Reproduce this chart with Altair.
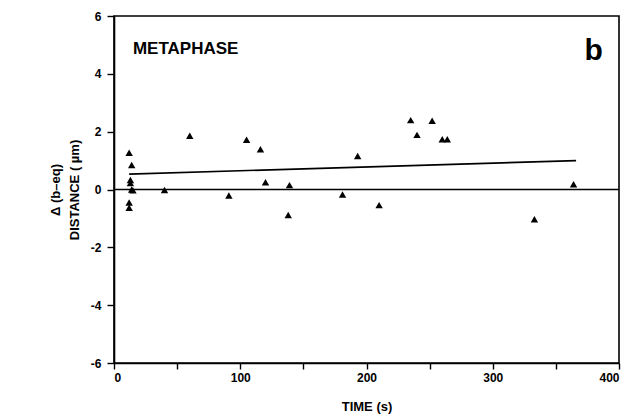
import altair as alt
import pandas as pd

# Data
time_s = [12, 14, 13, 13, 14, 15, 12, 12, 40, 60, 91, 105, 116, 120, 138, 139,
          181, 193, 210, 235, 240, 252, 260, 264, 333, 364]
delta_um = [1.27, 0.85, 0.33, 0.22, 0.0, -0.03, -0.45, -0.63, -0.02, 1.86, -0.21,
            1.72, 1.39, 0.25, -0.88, 0.15, -0.17, 1.16, -0.54, 2.4, 1.89, 2.38,
            1.74, 1.74, -1.03, 0.18]

fit_x = [12, 366]
fit_y = [0.53, 1.0]

x_ticks = [0, 50, 100, 150, 200, 250, 300, 350, 400]
y_ticks = [-6, -5, -4, -3, -2, -1, 0, 1, 2, 3, 4, 5, 6]

pts = pd.DataFrame({"t": time_s, "d": delta_um})
fit = pd.DataFrame({"t": fit_x, "d": fit_y})
labels = pd.DataFrame({"t": [15, 380], "d": [4.86, 4.8], "txt": ["METAPHASE", "b"]})

FONT = "Liberation Sans"

xscale = alt.Scale(domain=[0, 400], nice=False, zero=False)
yscale = alt.Scale(domain=[-6, 6], nice=False, zero=False)

xaxis = alt.Axis(
    values=x_ticks,
    labelExpr="datum.value % 100 == 0 ? datum.label : ''",
    title="TIME (s)",
    grid=False,
    tickSize=6,
    labelPadding=3,
    titlePadding=17,
)
yaxis = alt.Axis(
    values=y_ticks,
    labelExpr="datum.value % 2 == 0 ? replace(datum.label, '\u2212', '-') : ''",
    title=["Δ (b–eq)", "DISTANCE ( µm)"],
    grid=False,
    tickSize=7,
    labelPadding=6,
    titlePadding=9,
    titleLineHeight=19,
)

base_x = alt.X("t:Q", scale=xscale, axis=xaxis)
base_y = alt.Y("d:Q", scale=yscale, axis=yaxis)

points = alt.Chart(pts).mark_point(
    shape="triangle-up", filled=True, color="black", size=55, opacity=1
).encode(x=base_x, y=base_y)

line = alt.Chart(fit).mark_line(color="black", strokeWidth=1.6).encode(x="t:Q", y="d:Q")

zero = alt.Chart(pd.DataFrame({"z": [0]})).mark_rule(color="black", strokeWidth=1.6).encode(
    y=alt.Y("z:Q", scale=yscale)
)

meta = alt.Chart(labels.iloc[[0]]).mark_text(
    align="left", baseline="middle", font=FONT, fontSize=17, fontWeight="bold", color="black"
).encode(x="t:Q", y="d:Q", text="txt:N")

blabel = alt.Chart(labels.iloc[[1]]).mark_text(
    align="center", baseline="middle", font=FONT, fontSize=30, fontWeight="bold", color="black"
).encode(x="t:Q", y="d:Q", text="txt:N")

chart = alt.layer(zero, line, points, meta, blabel).properties(
    width=505,
    height=347,
    autosize=alt.AutoSizeParams(type="none"),
    padding={"left": 106, "top": 8, "right": 15, "bottom": 52},
).configure_view(
    stroke="black", strokeWidth=1.6
).configure_axis(
    domainColor="black",
    domainWidth=1.6,
    tickColor="black",
    tickWidth=1.4,
    labelFont=FONT,
    labelFontSize=12,
    labelFontWeight="bold",
    labelColor="black",
    titleFont=FONT,
    titleFontSize=13,
    titleFontWeight="bold",
    titleColor="black",
)

chart.save("out.html", embed_options={"renderer": "svg", "actions": False})
